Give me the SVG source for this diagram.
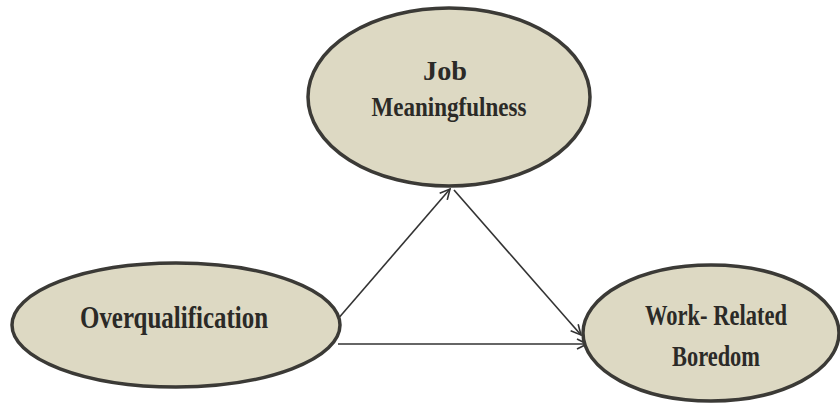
<svg xmlns="http://www.w3.org/2000/svg" width="840" height="410" viewBox="0 0 840 410">
<style>
.node ellipse{fill:#ddd9c3;stroke:#3b3a36;stroke-width:3.5}
.node text{font-family:"Liberation Serif","Times New Roman",serif;font-weight:bold;fill:#2b2a27;text-anchor:middle}
.edge{stroke:#333;stroke-width:1.6;fill:none;marker-end:url(#arr)}
</style>
<defs>
<marker id="arr" viewBox="0 0 12 12" refX="11" refY="6" markerWidth="12" markerHeight="12" markerUnits="userSpaceOnUse" orient="auto">
<path d="M1,1 L11,6 L1,11" fill="none" stroke="#333" stroke-width="1.6"/>
</marker>
</defs>
<rect width="840" height="410" fill="#fff"/>
<g id="connectors">
<line class="edge" x1="337" y1="320" x2="450" y2="189"/>
<line class="edge" x1="454" y1="190" x2="581" y2="335"/>
<line class="edge" x1="338" y1="344" x2="587" y2="344"/>
</g>
<g id="job-meaningfulness" class="node">
<ellipse cx="449" cy="97" rx="141" ry="89"/>
<text x="445" y="80" font-size="27" textLength="44" lengthAdjust="spacingAndGlyphs">Job</text>
<text x="449" y="116" font-size="27" textLength="155" lengthAdjust="spacingAndGlyphs">Meaningfulness</text>
</g>
<g id="overqualification" class="node">
<ellipse cx="176" cy="325" rx="164" ry="62"/>
<text x="174" y="328" font-size="32" textLength="188" lengthAdjust="spacingAndGlyphs">Overqualification</text>
</g>
<g id="work-related-boredom" class="node">
<ellipse cx="711" cy="333" rx="128" ry="68"/>
<text x="716" y="325" font-size="29" textLength="142" lengthAdjust="spacingAndGlyphs">Work- Related</text>
<text x="716" y="366" font-size="29" textLength="88" lengthAdjust="spacingAndGlyphs">Boredom</text>
</g>
</svg>
